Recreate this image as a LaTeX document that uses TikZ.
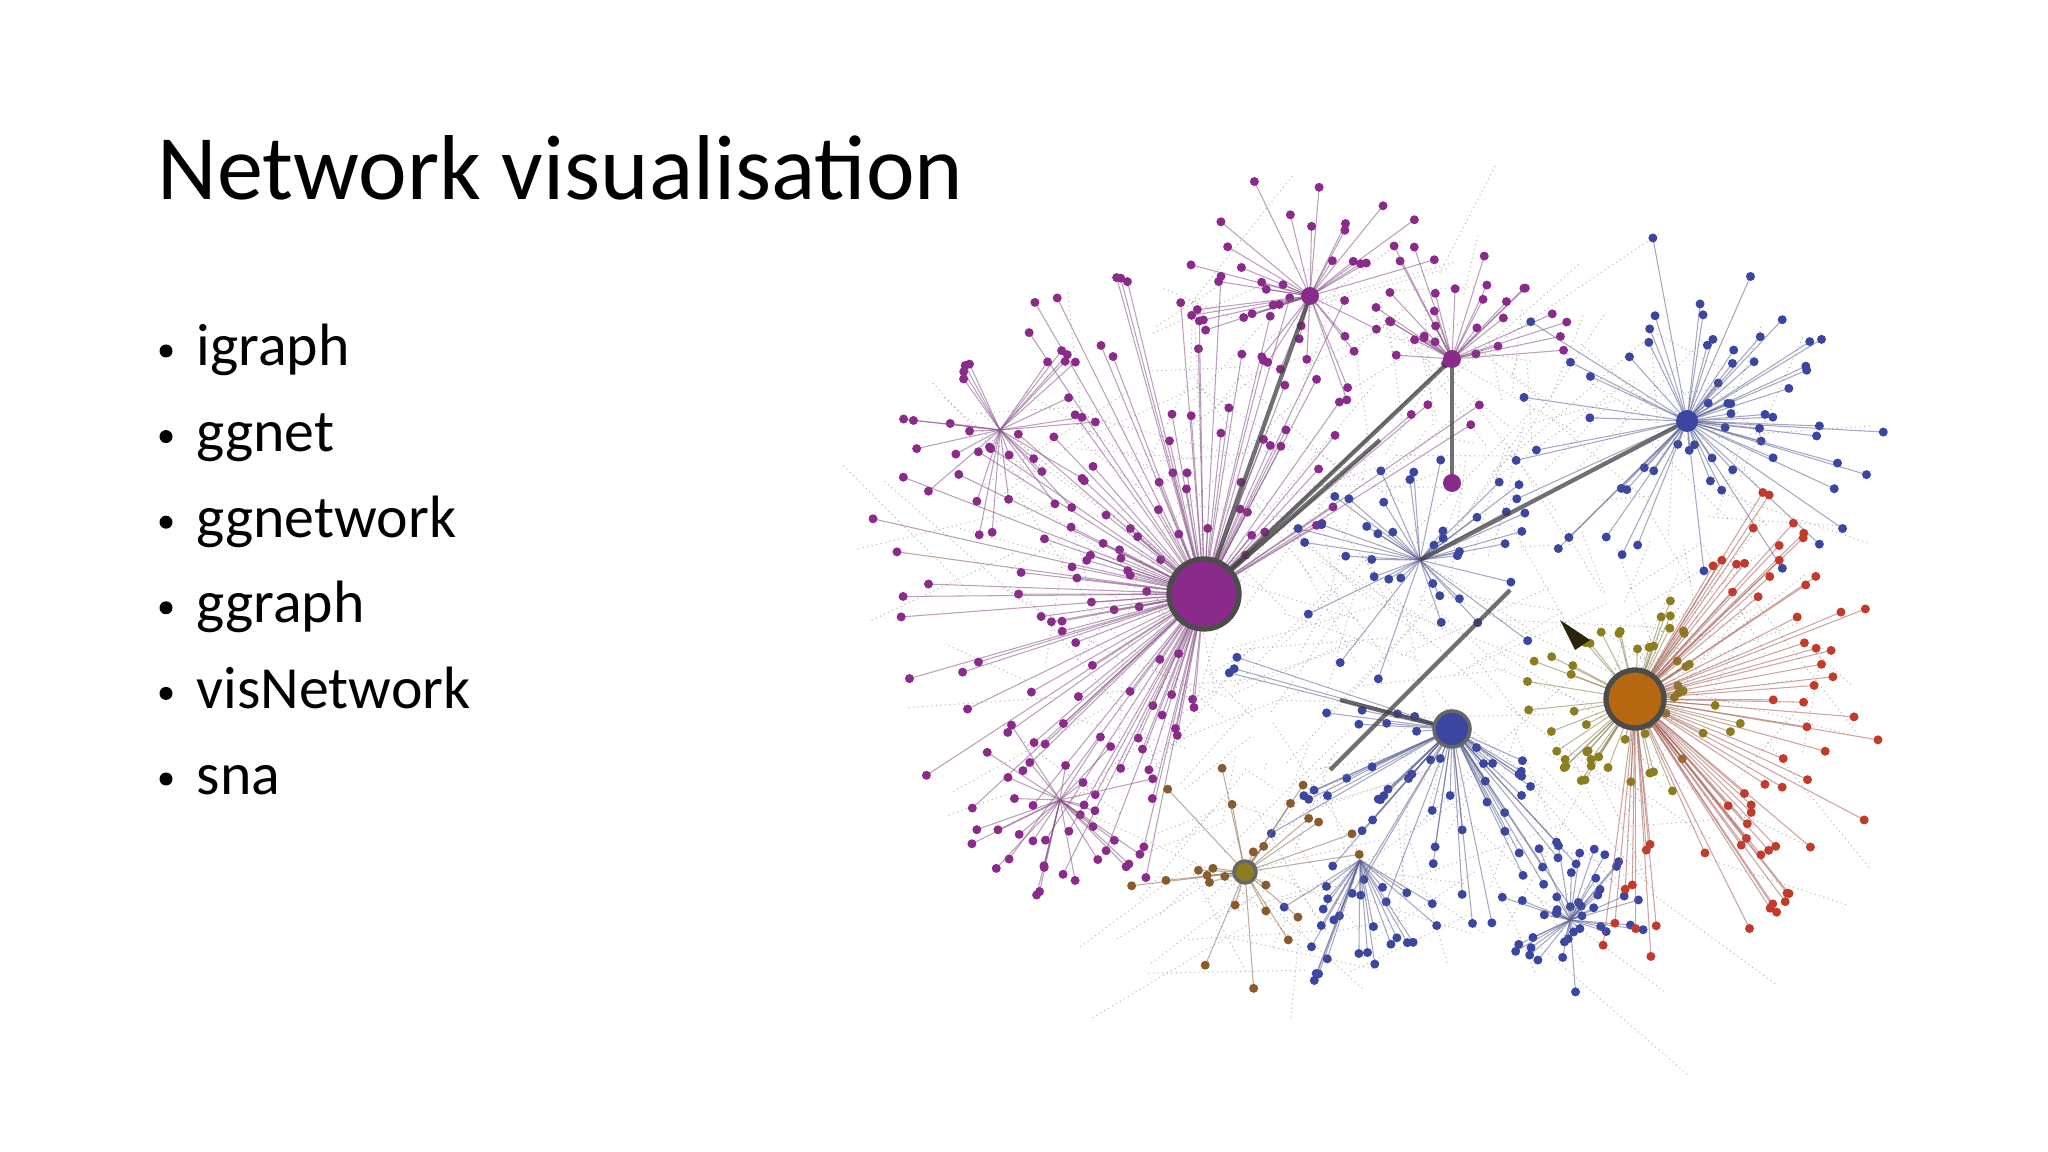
\documentclass[tikz,border=0pt]{standalone}
\usepackage{fontspec}
\setmainfont{Carlito}
\definecolor{npurple}{HTML}{8A2A8A}
\definecolor{nblue}{HTML}{3A46A0}
\definecolor{norange}{HTML}{B5680F}
\definecolor{nolive}{HTML}{8C7D1E}
\definecolor{nred}{HTML}{C23A2A}
\definecolor{nbrown}{HTML}{8B5A2B}
\newcommand\netcluster[8]{%
 \foreach \i in {1,...,#4}{%
   \pgfmathsetmacro\ang{#7+(#8-#7)*rnd}%
   \pgfmathsetmacro\rr{#5+(#6-#5)*rnd}%
   \pgfmathsetmacro\px{#1+\rr*cos(\ang)}%
   \pgfmathsetmacro\py{#2+\rr*sin(\ang)}%
   \draw[edge,draw=#3!55!gray] (#1,#2) -- (\px,\py);
   \fill[#3] (\px,\py) circle[radius=4.5];
 }}
\newcommand\netcross[1]{%
 \foreach \i in {1,...,#1}{%
   \pgfmathsetmacro\ang{360*rnd}\pgfmathsetmacro\rr{sqrt(rnd)}%
   \pgfmathsetmacro\ax{1390+440*\rr*cos(\ang)}\pgfmathsetmacro\ay{620+360*\rr*sin(\ang)}%
   \pgfmathsetmacro\bx{\ax+160*rand}\pgfmathsetmacro\by{\ay+140*rand}%
   \draw[edge,densely dotted] (\ax,\ay) -- (\bx,\by);
 }}
\tikzset{edge/.style={line width=0.3pt,draw=gray,opacity=0.55},
 hubedge/.style={line width=1.2pt,draw=black!75,opacity=0.75},
 titletext/.style={anchor=base west,font=\fontsize{26.2}{30}\selectfont,inner sep=0},
 itemtext/.style={anchor=base west,font=\fontsize{17}{20}\selectfont,inner sep=0}}
\begin{document}
\begin{tikzpicture}[x=0.01cm,y=-0.01cm]
\useasboundingbox (0,0) rectangle (2048,1152);
\node[titletext] (title) at (157,200) {Network visualisation};
\foreach \t [count=\k] in {igraph,ggnet,ggnetwork,ggraph,visNetwork,sna}{
  \node[itemtext] (b\k) at (196,{366+85.6*(\k-1)}) {\t};
  \fill (166,{351+85.6*(\k-1)}) circle[radius=6.5];
}
\pgfmathsetseed{11}
\netcross{320}
% purple
\netcluster{1204}{594}{npurple}{130}{50}{340}{90}{330}
\netcluster{1310}{296}{npurple}{40}{20}{130}{0}{360}
\netcluster{1452}{359}{npurple}{30}{20}{130}{180}{360}
\netcluster{1000}{430}{npurple}{30}{20}{110}{0}{360}
\netcluster{1060}{800}{npurple}{30}{20}{100}{0}{360}
% blue
\netcluster{1452}{729}{nblue}{60}{30}{230}{20}{200}
\netcluster{1570}{920}{nblue}{40}{10}{80}{0}{360}
\netcluster{1687}{421}{nblue}{65}{20}{200}{0}{360}
\netcluster{1420}{560}{nblue}{40}{20}{150}{0}{360}
\netcluster{1360}{860}{nblue}{25}{20}{140}{30}{150}
% orange hub
\netcluster{1635}{699}{nolive}{60}{25}{110}{0}{360}
\netcluster{1635}{699}{nred}{65}{130}{260}{-60}{100}
% olive hub
\netcluster{1245}{872}{nbrown}{25}{20}{120}{0}{360}
% heavy edges
\draw[hubedge] (1204,594) -- (1452,359);
\draw[hubedge] (1204,594) -- (1380,440);
\draw[hubedge] (1330,770) -- (1510,590);
\draw[hubedge] (1452,359) -- (1452,483);
\draw[hubedge] (1340,700) -- (1452,729);
\draw[hubedge] (1204,594) -- (1310,296);
\draw[hubedge] (1420,560) -- (1687,421);
\fill[black!70!nolive] (1560,620) -- (1590,640) -- (1575,650) -- cycle;
% hubs
\node[circle,fill=npurple,draw=black!70,line width=1.5pt,minimum size=70*0.01cm,inner sep=0] (hubp) at (1204,594) {};
\node[circle,fill=norange,draw=black!70,line width=1.5pt,minimum size=58*0.01cm,inner sep=0] (hubo) at (1635,699) {};
\node[circle,fill=nblue,draw=black!60,line width=1pt,minimum size=36*0.01cm,inner sep=0] (hubb) at (1452,729) {};
\node[circle,fill=nolive,draw=black!60,line width=1pt,minimum size=22*0.01cm,inner sep=0] (hubol) at (1245,872) {};
\node[circle,fill=nblue,minimum size=22*0.01cm,inner sep=0] (hubbt) at (1687,421) {};
\node[circle,fill=npurple,minimum size=18*0.01cm,inner sep=0] (hubp2) at (1310,296) {};
\node[circle,fill=npurple,minimum size=18*0.01cm,inner sep=0] (hubp3) at (1452,359) {};
\node[circle,fill=npurple,minimum size=18*0.01cm,inner sep=0] (hubp4) at (1452,483) {};
\end{tikzpicture}
\end{document}
